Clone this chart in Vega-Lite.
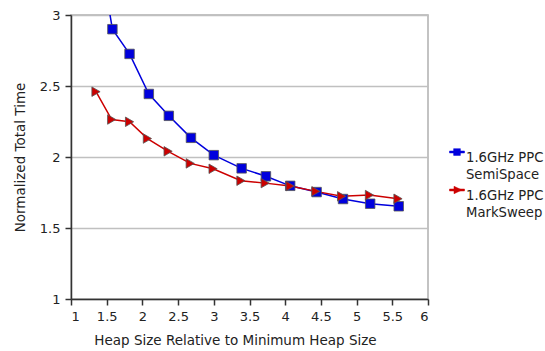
{
  "$schema": "https://vega.github.io/schema/vega-lite/v6.json",
  "width": 357,
  "height": 284,
  "autosize": "none",
  "padding": {"left": 71, "top": 15, "right": 117, "bottom": 52},
  "background": "white",
  "config": {
    "font": "DejaVu Sans",
    "view": {"stroke": "#b0b0b0", "strokeWidth": 1.5},
    "axis": {"labelFont": "DejaVu Sans", "titleFont": "DejaVu Sans", "labelFontSize": 13, "titleFontSize": 13.5, "titleFontWeight": "normal", "labelColor": "#222", "titleColor": "#222", "domainColor": "#333", "tickColor": "#333", "domainWidth": 1.5, "tickWidth": 1.5, "tickSize": 6, "gridColor": "#c0c0c0", "gridWidth": 1.5},
    "legend": {"labelFont": "DejaVu Sans", "labelFontSize": 13.2, "labelColor": "#222"}
  },
  "data": {"values": [
    {"s": "1.6GHz PPC SemiSpace", "x": 1.34, "y": 3.62},
    {"s": "1.6GHz PPC SemiSpace", "x": 1.58, "y": 2.90},
    {"s": "1.6GHz PPC SemiSpace", "x": 1.82, "y": 2.726},
    {"s": "1.6GHz PPC SemiSpace", "x": 2.09, "y": 2.444},
    {"s": "1.6GHz PPC SemiSpace", "x": 2.37, "y": 2.29},
    {"s": "1.6GHz PPC SemiSpace", "x": 2.68, "y": 2.135},
    {"s": "1.6GHz PPC SemiSpace", "x": 3.0, "y": 2.013},
    {"s": "1.6GHz PPC SemiSpace", "x": 3.39, "y": 1.92},
    {"s": "1.6GHz PPC SemiSpace", "x": 3.73, "y": 1.864},
    {"s": "1.6GHz PPC SemiSpace", "x": 4.07, "y": 1.797},
    {"s": "1.6GHz PPC SemiSpace", "x": 4.44, "y": 1.753},
    {"s": "1.6GHz PPC SemiSpace", "x": 4.81, "y": 1.704},
    {"s": "1.6GHz PPC SemiSpace", "x": 5.19, "y": 1.671},
    {"s": "1.6GHz PPC SemiSpace", "x": 5.59, "y": 1.653},
    {"s": "1.6GHz PPC MarkSweep", "x": 1.35, "y": 2.46},
    {"s": "1.6GHz PPC MarkSweep", "x": 1.57, "y": 2.264},
    {"s": "1.6GHz PPC MarkSweep", "x": 1.82, "y": 2.248},
    {"s": "1.6GHz PPC MarkSweep", "x": 2.07, "y": 2.13},
    {"s": "1.6GHz PPC MarkSweep", "x": 2.36, "y": 2.04},
    {"s": "1.6GHz PPC MarkSweep", "x": 2.67, "y": 1.955},
    {"s": "1.6GHz PPC MarkSweep", "x": 2.99, "y": 1.917},
    {"s": "1.6GHz PPC MarkSweep", "x": 3.38, "y": 1.833},
    {"s": "1.6GHz PPC MarkSweep", "x": 3.72, "y": 1.816},
    {"s": "1.6GHz PPC MarkSweep", "x": 4.07, "y": 1.795},
    {"s": "1.6GHz PPC MarkSweep", "x": 4.43, "y": 1.758},
    {"s": "1.6GHz PPC MarkSweep", "x": 4.79, "y": 1.723},
    {"s": "1.6GHz PPC MarkSweep", "x": 5.18, "y": 1.732},
    {"s": "1.6GHz PPC MarkSweep", "x": 5.58, "y": 1.706}
  ]},
  "encoding": {
    "x": {"field": "x", "type": "quantitative", "scale": {"domain": [1, 6], "nice": false}, "axis": {"values": [1, 1.5, 2, 2.5, 3, 3.5, 4, 4.5, 5, 5.5, 6], "format": ".1~f", "grid": false, "title": "Heap Size Relative to Minimum Heap Size", "titlePadding": 10, "labelPadding": 5, "titleX": 164}},
    "y": {"field": "y", "type": "quantitative", "scale": {"domain": [1, 3], "nice": false}, "axis": {"values": [1, 1.5, 2, 2.5, 3], "format": ".1~f", "grid": true, "title": "Normalized Total Time", "titlePadding": 12, "labelPadding": 5}},
    "color": {"field": "s", "type": "nominal", "scale": {"domain": ["1.6GHz PPC SemiSpace", "1.6GHz PPC MarkSweep"], "range": ["#0000dd", "#cc0000"]},
      "legend": {"title": null, "orient": "none", "legendX": 378, "legendY": 129, "rowPadding": 0, "symbolOffset": 0, "labelOffset": 1, "labelLimit": 200, "labelBaseline": "top",
        "labelExpr": "[slice(datum.label,0,10), slice(datum.label,11)]",
        "encode": {
          "labels": {"update": {"lineHeight": {"value": 17}}},
          "symbols": {"update": {
          "shape": {"signal": "datum.value === '1.6GHz PPC SemiSpace' ? 'M-1,-0.13H1V0.13H-1Z M-0.45,-0.45H0.45V0.45H-0.45Z' : 'M-1,-0.13H1V0.13H-1Z M-0.4,-0.5L0.65,0L-0.4,0.5Z'"},
          "size": {"value": 225},
          "fill": {"signal": "datum.value === '1.6GHz PPC SemiSpace' ? '#0000dd' : '#cc0000'"},
          "stroke": {"signal": "datum.value === '1.6GHz PPC SemiSpace' ? '#0000dd' : '#cc0000'"},
          "strokeWidth": {"value": 0.5},
          "opacity": {"value": 1}
        }}}
      }}
  },
  "layer": [
    {"mark": {"type": "line", "clip": true, "strokeWidth": 1.5}},
    {"transform": [{"filter": "datum.s === '1.6GHz PPC SemiSpace'"}],
     "mark": {"type": "point", "shape": "square", "filled": true, "clip": true, "opacity": 1, "stroke": "#555", "strokeWidth": 0.8, "size": 90}},
    {"transform": [{"filter": "datum.s === '1.6GHz PPC MarkSweep'"}],
     "mark": {"type": "point", "shape": "triangle-right", "filled": true, "clip": true, "opacity": 1, "stroke": "#555", "strokeWidth": 0.8, "size": 90}}
  ]
}
